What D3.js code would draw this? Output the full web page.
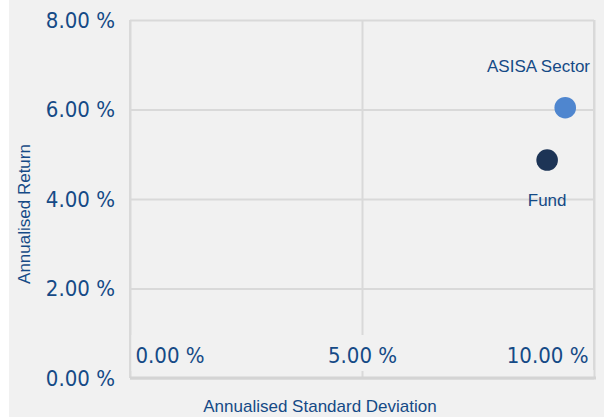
<!DOCTYPE html>
<html>
<head>
<meta charset="utf-8">
<script src="https://cdn.jsdelivr.net/npm/d3@7"></script>
<style>
  body { margin: 0; background: #fff; }
  svg { display: block; }
</style>
</head>
<body>
<div id="chart"></div>
<script>
// data
const seriesNames = ["ASISA Sector", "Fund"];
const stdDev = [9.38, 8.99];     // annualised standard deviation, %
const annReturn = [6.04, 4.87];  // annualised return, %
const seriesColors = ["#4f86cf", "#1d3456"];
const xTicks = [0, 5, 10];
const yTicks = [0, 2, 4, 6, 8];

const W = 604, H = 417;
const margin = {top: 20, right: 10, bottom: 39, left: 130};
const plotW = W - margin.left - margin.right,
      plotH = H - margin.top - margin.bottom;
const bg = "#f1f1f1", grid = "#d9d9d9", textCol = "#154a86";
const tickFont = "'DejaVu Sans Condensed', 'DejaVu Sans', sans-serif";
const labelFont = "'Liberation Sans', Arial, sans-serif";

const svg = d3.select("#chart").append("svg").attr("width", W).attr("height", H);
svg.append("rect").attr("x", 9).attr("y", 0).attr("width", W - 9).attr("height", H).attr("fill", bg);

const g = svg.append("g").attr("transform", "translate(" + margin.left + "," + margin.top + ")");

const x = d3.scaleLinear().domain([0, 10]).range([0, plotW]);
const y = d3.scaleLinear().domain([0, 8]).range([plotH, 0]);
const fmt = d => d.toFixed(2) + " %";

// Y axis + horizontal grid
const yAxis = g.append("g")
  .call(d3.axisLeft(y).tickValues(yTicks).tickSize(-plotW).tickPadding(15).tickFormat(fmt));
yAxis.select(".domain").remove();
yAxis.selectAll("line").attr("stroke", grid).attr("stroke-width", 2);
yAxis.selectAll("text")
  .attr("fill", textCol).style("font-family", tickFont).style("font-size", "22px");

// X axis + vertical grid, labels sit inside the plot
const xAxis = g.append("g").attr("transform", "translate(0," + plotH + ")")
  .call(d3.axisBottom(x).tickValues(xTicks).tickSize(-plotH).tickFormat(fmt));
xAxis.select(".domain").remove();
xAxis.selectAll("line").attr("stroke", grid).attr("stroke-width", 2);
xAxis.selectAll(".tick").each(function(d) {
  const tick = d3.select(this);
  const t = tick.select("text")
    .attr("fill", textCol).style("font-family", tickFont).style("font-size", "22px")
    .attr("y", -23).attr("dy", "0.35em").attr("text-anchor", "start");
  const w = t.node().getComputedTextLength();
  const cx = x(d);
  // keep label inside plot
  let left = Math.max(cx - w / 2, 5);
  left = Math.min(left, plotW - 6 - w);
  t.attr("x", left - cx);
  tick.insert("rect", "text")
    .attr("x", left - cx - 4).attr("y", -43).attr("width", w + 8).attr("height", 36)
    .attr("fill", bg);
});

// plot border
g.append("line").attr("x1", 0).attr("x2", 0).attr("y1", 0).attr("y2", plotH)
  .attr("stroke", grid).attr("stroke-width", 2);
g.append("line").attr("x1", plotW).attr("x2", plotW).attr("y1", 0).attr("y2", plotH - 8)
  .attr("stroke", grid).attr("stroke-width", 2);
g.append("line").attr("x1", 0).attr("x2", plotW + 2).attr("y1", plotH).attr("y2", plotH)
  .attr("stroke", "#d4d4d4").attr("stroke-width", 3);

// points
const pts = seriesNames.map((n, i) => ({name: n, sd: stdDev[i], ret: annReturn[i], color: seriesColors[i]}));
const maxRet = d3.max(annReturn);
g.selectAll("circle.pt").data(pts).join("circle")
  .attr("class", "pt")
  .attr("cx", d => x(d.sd)).attr("cy", d => y(d.ret))
  .attr("r", 10.8).attr("fill", d => d.color);

// point labels: top series above, others below
g.selectAll("text.lbl").data(pts).join("text")
  .attr("class", "lbl")
  .attr("y", d => y(d.ret) + (d.ret === maxRet ? -42 : 40))
  .attr("dy", "0.35em")
  .attr("fill", textCol).style("font-family", labelFont).style("font-size", "17px")
  .attr("text-anchor", "start")
  .text(d => d.name)
  .each(function(d) {
    const w = this.getComputedTextLength();
    let left = x(d.sd) - w / 2;
    left = Math.min(left, plotW - 4 - w);
    d3.select(this).attr("x", left);
  });

// axis titles
svg.append("text")
  .attr("x", 320).attr("y", 412)
  .attr("text-anchor", "middle")
  .attr("fill", textCol).style("font-family", labelFont).style("font-size", "17px")
  .text("Annualised Standard Deviation");
svg.append("text")
  .attr("transform", "translate(30,214) rotate(-90)")
  .attr("text-anchor", "middle")
  .attr("fill", textCol).style("font-family", labelFont).style("font-size", "17px")
  .text("Annualised Return");
</script>
</body>
</html>
